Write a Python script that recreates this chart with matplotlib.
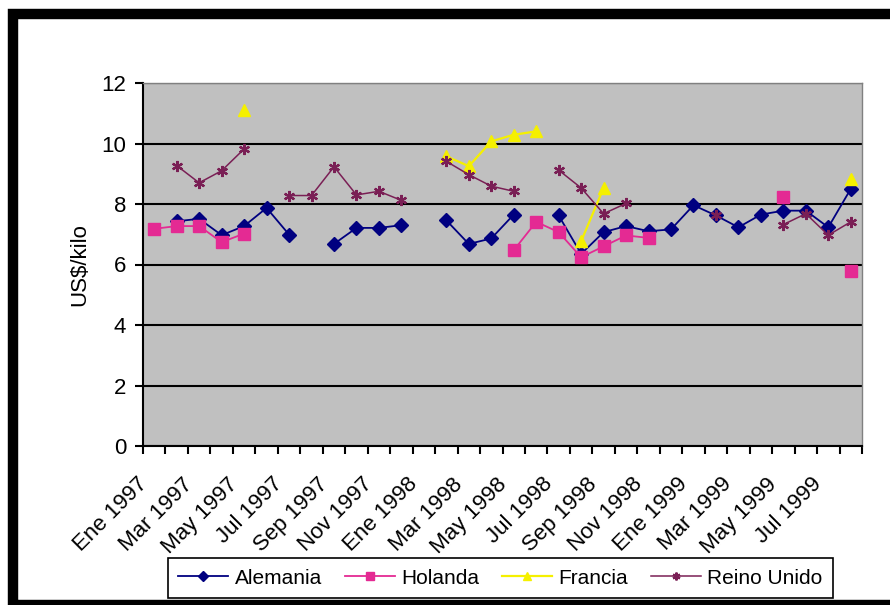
import numpy as np
import matplotlib.pyplot as plt
from matplotlib.patches import Rectangle
from matplotlib.transforms import ScaledTranslation

nan = np.nan

# Monthly categories, Ene 1997 .. Ago 1999
meses = ['Ene', 'Feb', 'Mar', 'Abr', 'May', 'Jun', 'Jul', 'Ago', 'Sep', 'Oct', 'Nov', 'Dic']
anios = [1997, 1998, 1999]
categorias = [f'{m} {a}' for a in anios for m in meses][:32]

alemania = [nan, 7.43, 7.51, 6.97, 7.27, 7.87, 6.99, nan, 6.68, 7.21, 7.21, 7.30, nan,
            7.46, 6.68, 6.86, 7.65, nan, 7.62, 6.35, 7.07, 7.27, 7.10, 7.16, 7.96,
            7.62, 7.23, 7.65, 7.78, 7.78, 7.23, 8.50]
holanda = [7.18, 7.27, 7.27, 6.74, 7.02, nan, nan, nan, nan, nan, nan, nan, nan,
           nan, nan, nan, 6.47, 7.41, 7.07, 6.24, 6.60, 6.96, 6.88, nan, nan,
           nan, nan, nan, 8.24, nan, nan, 5.80]
francia = [nan, nan, nan, nan, 11.12, nan, nan, nan, nan, nan, nan, nan, nan,
           9.58, 9.25, 10.07, 10.29, 10.40, nan, 6.77, 8.53, nan, nan, nan, nan,
           nan, nan, nan, nan, nan, nan, 8.83]
reino_unido = [nan, 9.27, 8.70, 9.10, 9.82, nan, 8.28, 8.28, 9.23, 8.30, 8.42, 8.12, nan,
               9.41, 8.97, 8.59, 8.42, nan, 9.12, 8.53, 7.68, 8.02, nan, nan, nan,
               7.62, nan, nan, 7.32, 7.68, 6.97, 7.41]

plt.rcParams['font.family'] = ['Liberation Sans', 'DejaVu Sans']

fig = plt.figure(figsize=(8.9, 6.05), dpi=100)
ax = fig.add_axes([143/890, 1 - 446/605, (862 - 143)/890, (446 - 83)/605])
ax.set_facecolor('#c0c0c0')

x = np.arange(len(categorias))

ax.plot(x, alemania, color='#000080', lw=1.3, marker='D', ms=7, label='Alemania')
ax.plot(x, holanda, color='#e42a93', lw=1.3, marker='s', ms=8, label='Holanda')
ax.plot(x, francia, color='#f5f000', lw=1.6, marker='^', ms=8, label='Francia')
ax.plot(x, reino_unido, color='#7a1f55', lw=1.1, marker=(6, 2, 0), ms=8, mew=1.6,
        label='Reino Unido')

ax.set_ylim(0, 12)
ax.set_yticks(range(0, 13, 2))
ax.set_xlim(-0.5, len(categorias) - 0.5)
ax.set_xticks(np.arange(-0.5, len(categorias)), minor=False)
ax.set_xticklabels([])
ax.set_xticks(x[::2], minor=True)
ax.set_xticklabels(categorias[::2], minor=True, rotation=45, ha='right',
                   va='top', rotation_mode='anchor', fontsize=16)
ax.tick_params(axis='x', which='minor', length=0, pad=20)
ax.tick_params(axis='x', which='major', length=6, width=1.5, direction='out')
ax.tick_params(axis='y', length=6, width=1.5, labelsize=16, pad=6)

# shift rotated labels a little to the left, as in the original
shift = ScaledTranslation(-0.17, 0, fig.dpi_scale_trans)
for lab in ax.get_xticklabels(minor=True):
    lab.set_transform(lab.get_transform() + shift)

ax.grid(axis='y', color='black', lw=1.5)
ax.set_axisbelow(True)
for s in ['top', 'right']:
    ax.spines[s].set_color('#808080')
    ax.spines[s].set_linewidth(1)
for s in ['left', 'bottom']:
    ax.spines[s].set_linewidth(1.5)

ax.set_ylabel('US$/kilo', fontsize=16, labelpad=8)

leg = fig.legend(loc='center', bbox_to_anchor=(0.562, 1 - 578/605), ncol=4,
                 fontsize=15, frameon=True, fancybox=False, edgecolor='black',
                 framealpha=1, handlelength=2.4, handletextpad=0.3,
                 columnspacing=1.1, borderpad=0.5, markerscale=0.7)
leg.get_frame().set_linewidth(1.2)

# thick black frame of the scanned figure (right side runs off the page)
fig.patches.append(Rectangle((13/890, 0), 1.1, 591/605,
                             transform=fig.transFigure, fill=False, lw=7.5,
                             edgecolor='black', clip_on=False))

fig.savefig('out.png', dpi=100)
